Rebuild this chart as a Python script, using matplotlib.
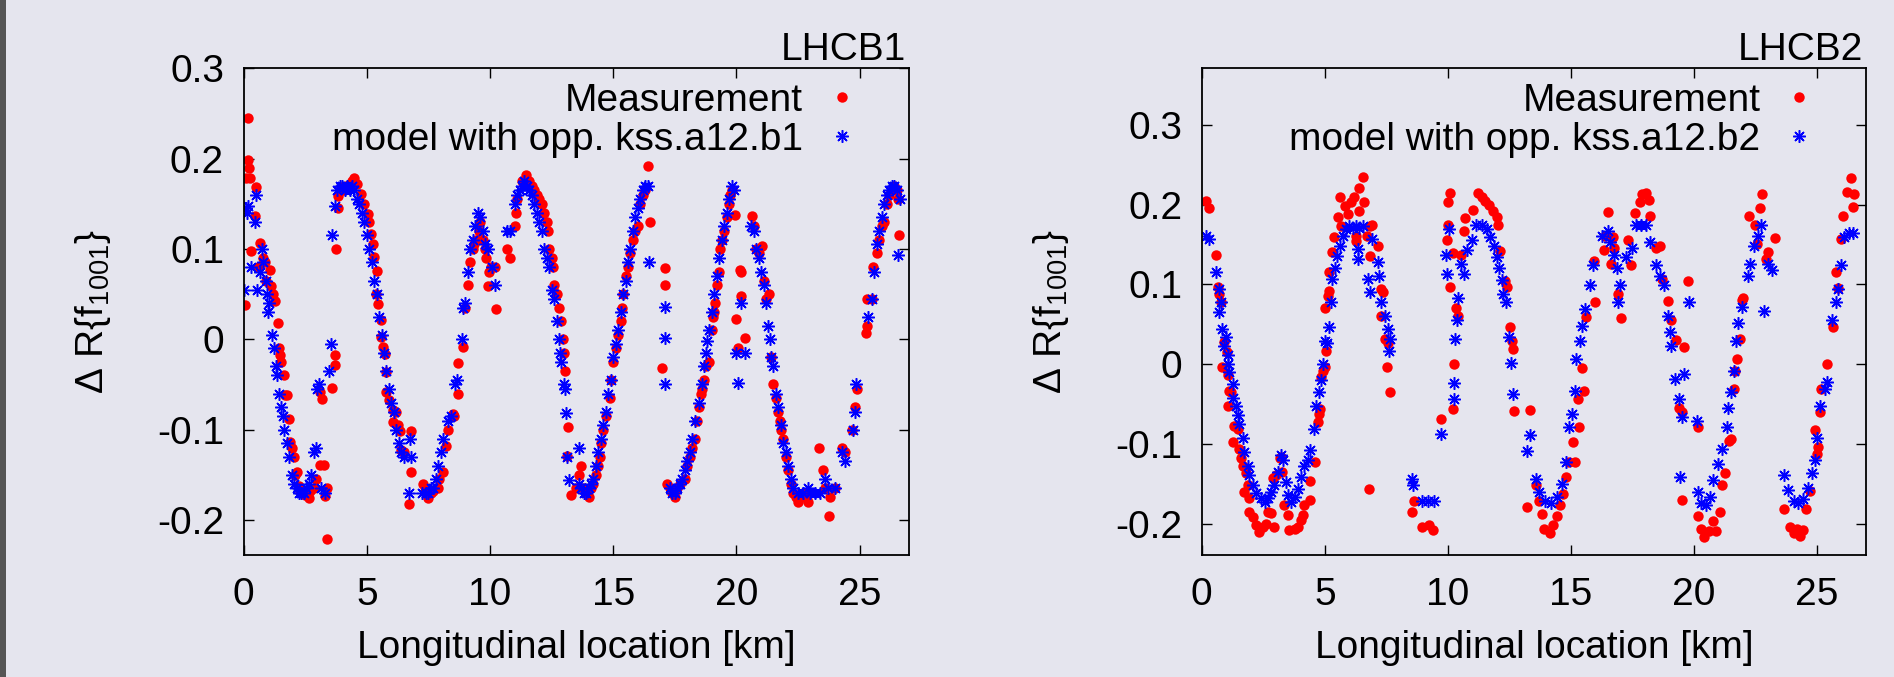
import matplotlib
matplotlib.use("Agg")
import matplotlib.pyplot as plt
from matplotlib.patches import Rectangle

plt.rcParams['font.family'] = ['Liberation Sans', 'DejaVu Sans']
plt.rcParams['font.size'] = 28
plt.rcParams['axes.unicode_minus'] = False

# ---------------------- LHCB1 data (km, delta Re f1001) ----------------------
b1_meas_x = [0.06, 0.18, 0.11, 0.18, 0.23, 0.28, 0.52, 0.45, 0.31, 0.65, 0.6, 0.78, 0.85, 0.9,
             1.06, 1.13, 1.2, 1.27, 1.38, 1.42, 1.48, 1.52, 1.63, 1.7, 1.76, 1.83, 1.9, 1.95,
             2.03, 2.1, 2.17, 2.23, 2.3, 2.44, 2.5, 2.64, 2.7, 2.84, 2.95, 3.11, 3.11, 3.2,
             3.28, 3.3, 3.37, 3.37, 3.58, 3.69, 3.73, 3.76, 3.82, 3.82, 3.96, 4.05, 4.15, 4.3,
             4.4, 4.5, 4.6, 4.77, 4.9, 5.04, 5.1, 5.17, 5.25, 5.31, 5.42, 5.38, 5.45, 5.58,
             5.58, 5.65, 5.72, 5.78, 5.78, 5.92, 6.06, 6.06, 6.19, 6.25, 6.33, 6.39, 6.5, 6.8,
             6.8, 6.73, 7.27, 7.35, 7.48, 7.6, 7.7, 7.88, 7.95, 8.08, 8.21, 8.3, 8.48, 8.55,
             8.69, 8.71, 8.89, 9.0, 9.1, 9.2, 9.3, 9.35, 9.45, 9.55, 9.6, 9.7, 9.8, 9.85,
             9.95, 9.9, 10.05, 10.2, 10.23, 10.67, 10.82, 11.0, 11.05, 11.1, 11.3, 11.45, 11.6,
             11.7, 11.8, 11.9, 12.0, 12.1, 12.2, 12.3, 12.35, 12.4, 12.5, 12.55, 12.6, 12.7,
             12.8, 12.9, 12.95, 13.0, 13.05, 13.18, 13.13, 13.3, 13.5, 13.6, 13.7, 13.8, 13.9,
             14.0, 14.1, 14.2, 14.3, 14.4, 14.45, 14.5, 14.6, 14.7, 14.85, 14.9, 15.0, 15.1,
             15.2, 15.3, 15.35, 15.4, 15.5, 15.6, 15.7, 15.8, 15.9, 16.0, 16.1, 16.2, 16.3,
             16.43, 16.5, 17.09, 17.1, 16.98, 17.2, 17.3, 17.4, 17.5, 17.6, 17.7, 17.9, 18.0,
             18.1, 18.2, 18.3, 18.4, 18.5, 18.55, 18.6, 18.7, 18.75, 18.9, 19.0, 19.05, 19.1,
             19.15, 19.2, 19.3, 19.35, 19.4, 19.5, 19.6, 19.7, 19.75, 19.8, 19.94, 20.0, 20.05,
             20.16, 20.2, 20.17, 20.33, 20.62, 20.7, 20.8, 20.9, 21.04, 21.1, 21.2, 21.33, 21.4,
             21.5, 21.6, 21.7, 21.75, 21.8, 21.9, 22.0, 22.1, 22.2, 22.3, 22.4, 22.5, 22.6,
             22.7, 22.8, 22.9, 23.0, 23.35, 23.5, 23.6, 23.75, 23.8, 24.0, 24.3, 24.4, 24.7,
             24.8, 24.9, 25.25, 25.3, 25.3, 25.5, 25.56, 25.7, 25.8, 25.9, 26.0, 26.1, 26.2,
             26.3, 26.4, 26.5, 26.55, 26.6]
b1_meas_y = [0.038, 0.245, 0.179, 0.198, 0.19, 0.178, 0.168, 0.136, 0.098, 0.107, 0.08, 0.09, 0.085, 0.065,
             0.077, 0.059, 0.05, 0.042, 0.018, -0.01, -0.017, -0.025, -0.04, -0.062, -0.062, -0.088, -0.114, -0.12,
             -0.13, -0.15, -0.147, -0.162, -0.168, -0.169, -0.172, -0.176, -0.168, -0.165, -0.155, -0.139, -0.058, -0.066,
             -0.139, -0.173, -0.165, -0.221, -0.054, -0.029, -0.017, 0.1, 0.145, 0.159, 0.168, 0.165, 0.17, 0.172,
             0.175, 0.178, 0.172, 0.161, 0.15, 0.139, 0.13, 0.117, 0.105, 0.091, 0.076, 0.05, 0.039, 0.021,
             0.003, -0.008, -0.016, -0.036, -0.058, -0.067, -0.078, -0.091, -0.08, -0.095, -0.102, -0.122, -0.125, -0.102,
             -0.147, -0.182, -0.16, -0.168, -0.176, -0.17, -0.168, -0.165, -0.155, -0.147, -0.118, -0.1, -0.083, -0.085,
             -0.06, -0.026, -0.008, 0.035, 0.06, 0.085, 0.1, 0.105, 0.11, 0.12, 0.13, 0.11, 0.1, 0.09,
             0.075, 0.059, 0.08, 0.08, 0.034, 0.1, 0.09, 0.125, 0.14, 0.155, 0.175, 0.182, 0.175,
             0.17, 0.165, 0.16, 0.155, 0.15, 0.14, 0.13, 0.12, 0.1, 0.09, 0.08, 0.06, 0.05,
             0.035, 0.02, 0.0, -0.015, -0.035, -0.097, -0.129, -0.172, -0.165, -0.15, -0.14, -0.165, -0.17,
             -0.175, -0.165, -0.16, -0.15, -0.14, -0.13, -0.115, -0.1, -0.085, -0.065, -0.045, -0.025, -0.01,
             0.005, 0.02, 0.035, 0.05, 0.07, 0.08, 0.095, 0.11, 0.12, 0.125, 0.15, 0.16, 0.165,
             0.192, 0.13, 0.079, 0.06, -0.032, -0.16, -0.165, -0.17, -0.175, -0.165, -0.16, -0.155, -0.14,
             -0.13, -0.12, -0.11, -0.09, -0.075, -0.06, -0.055, -0.045, -0.03, -0.025, 0.01, 0.025, 0.03,
             0.04, 0.06, 0.075, 0.1, 0.11, 0.12, 0.135, 0.15, 0.16, 0.165, 0.137, 0.022, -0.01,
             0.077, 0.074, 0.048, 0.001, 0.136, 0.125, 0.1, 0.095, 0.103, 0.065, 0.045, 0.05, -0.02,
             -0.05, -0.065, -0.08, -0.09, -0.1, -0.11, -0.13, -0.145, -0.16, -0.17, -0.175, -0.18, -0.175,
             -0.17, -0.175, -0.18, -0.17, -0.12, -0.145, -0.165, -0.195, -0.175, -0.165, -0.12, -0.125, -0.1,
             -0.075, -0.055, 0.007, 0.015, 0.045, 0.045, 0.08, 0.095, 0.11, 0.125, 0.13, 0.15, 0.16,
             0.165, 0.17, 0.165, 0.155, 0.115]

b1_model_x = [0.0, 0.08, 0.15, 0.2, 0.3, 0.45, 0.5, 0.55, 0.65, 0.75, 0.8, 0.9, 0.95, 1.0,
              1.05, 1.15, 1.25, 1.3, 1.35, 1.45, 1.5, 1.6, 1.65, 1.75, 1.85, 1.95, 2.05, 2.15,
              2.25, 2.35, 2.45, 2.55, 2.65, 2.75, 2.85, 2.95, 3.0, 3.05, 3.15, 3.3, 3.45, 3.55,
              3.6, 3.7, 3.8, 3.9, 4.0, 4.1, 4.2, 4.3, 4.4, 4.5, 4.6, 4.7, 4.8, 4.9,
              5.0, 5.1, 5.2, 5.3, 5.4, 5.5, 5.6, 5.7, 5.8, 5.9, 6.0, 6.1, 6.2, 6.3,
              6.4, 6.5, 6.75, 6.8, 6.7, 7.25, 7.4, 7.5, 7.6, 7.7, 7.8, 7.9, 8.0, 8.1,
              8.3, 8.4, 8.6, 8.65, 8.85, 8.9, 9.0, 9.1, 9.2, 9.3, 9.4, 9.5, 9.6, 9.7,
              9.8, 9.9, 10.1, 10.2, 10.7, 10.8, 11.0, 11.1, 11.2, 11.3, 11.4, 11.5, 11.6, 11.7,
              11.8, 11.9, 12.0, 12.1, 12.2, 12.3, 12.4, 12.5, 12.6, 12.7, 12.8, 12.85, 12.9, 13.0,
              13.05, 13.1, 13.13, 13.2, 13.6, 13.6, 13.7, 13.8, 13.9, 14.0, 14.1, 14.2, 14.3, 14.4,
              14.5, 14.6, 14.7, 14.8, 14.9, 15.0, 15.1, 15.2, 15.3, 15.4, 15.5, 15.6, 15.7, 15.8,
              15.9, 16.0, 16.1, 16.2, 16.3, 16.4, 16.46, 17.09, 17.09, 17.11, 17.3, 17.4, 17.5, 17.6,
              17.7, 17.8, 17.9, 18.0, 18.1, 18.2, 18.3, 18.5, 18.6, 18.7, 18.75, 18.8, 18.9, 19.0,
              19.1, 19.2, 19.3, 19.4, 19.5, 19.6, 19.7, 19.8, 19.9, 20.0, 20.05, 20.2, 20.35, 20.6,
              20.7, 20.8, 20.9, 21.0, 21.1, 21.2, 21.3, 21.35, 21.4, 21.5, 21.6, 21.7, 21.8, 21.9,
              22.0, 22.1, 22.2, 22.3, 22.5, 22.7, 22.9, 23.0, 23.2, 23.4, 23.6, 23.7, 24.0, 24.3,
              24.4, 24.75, 24.8, 24.85, 25.35, 25.5, 25.6, 25.7, 25.8, 25.9, 26.0, 26.1, 26.2, 26.3,
              26.4, 26.5, 26.65, 26.57]
b1_model_y = [0.054, 0.145, 0.14, 0.148, 0.08, 0.13, 0.16, 0.055, 0.075, 0.1, 0.085, 0.065, 0.05, 0.03,
              0.04, 0.005, -0.01, -0.03, -0.04, -0.06, -0.075, -0.085, -0.1, -0.115, -0.13, -0.15, -0.16, -0.165,
              -0.17, -0.17, -0.17, -0.165, -0.16, -0.15, -0.125, -0.12, -0.055, -0.05, -0.165, -0.17, -0.035, -0.005,
              0.115, 0.148, 0.165, 0.17, 0.17, 0.165, 0.17, 0.165, 0.17, 0.165, 0.155, 0.15, 0.14, 0.13,
              0.115, 0.1, 0.085, 0.065, 0.05, 0.025, 0.005, -0.015, -0.035, -0.055, -0.07, -0.08, -0.1, -0.115,
              -0.125, -0.13, -0.11, -0.13, -0.17, -0.17, -0.17, -0.17, -0.165, -0.165, -0.155, -0.14, -0.125, -0.11,
              -0.09, -0.085, -0.05, -0.045, 0.0, 0.035, 0.04, 0.075, 0.1, 0.11, 0.125, 0.14, 0.135, 0.12,
              0.105, 0.1, 0.08, 0.06, 0.12, 0.12, 0.15, 0.16, 0.165, 0.17, 0.175, 0.17, 0.165, 0.16,
              0.15, 0.14, 0.13, 0.12, 0.1, 0.09, 0.08, 0.055, 0.045, 0.02, 0.0, -0.015, -0.025, -0.05,
              -0.055, -0.082, -0.13, -0.156, -0.12, -0.16, -0.165, -0.17, -0.17, -0.165, -0.16, -0.155, -0.14, -0.125,
              -0.11, -0.095, -0.08, -0.06, -0.045, -0.02, -0.005, 0.01, 0.03, 0.05, 0.065, 0.085, 0.1, 0.12,
              0.135, 0.145, 0.155, 0.165, 0.17, 0.17, 0.085, 0.036, 0.001, -0.049, -0.165, -0.17, -0.17, -0.165,
              -0.16, -0.155, -0.145, -0.135, -0.125, -0.11, -0.09, -0.07, -0.05, -0.03, -0.015, -0.002, 0.01, 0.03,
              0.05, 0.07, 0.09, 0.11, 0.125, 0.14, 0.155, 0.17, 0.165, -0.015, -0.048, 0.04, -0.015, 0.125,
              0.12, 0.1, 0.09, 0.075, 0.06, 0.04, 0.015, 0.0, -0.02, -0.03, -0.06, -0.075, -0.095, -0.115,
              -0.125, -0.14, -0.155, -0.165, -0.17, -0.17, -0.165, -0.17, -0.17, -0.17, -0.155, -0.165, -0.165, -0.125,
              -0.135, -0.1, -0.08, -0.05, 0.025, 0.045, 0.075, 0.105, 0.12, 0.135, 0.15, 0.16, 0.165, 0.17,
              0.17, 0.165, 0.155, 0.093]

# ---------------------- LHCB2 data ----------------------
b2_meas_x = [0.18, 0.31, 0.58, 0.68, 0.72, 0.79, 0.92, 1.02, 0.83, 1.06, 1.12, 1.19, 1.06, 1.33,
             1.46, 1.26, 1.53, 1.6, 1.67, 1.8, 1.87, 1.73, 1.94, 1.94, 2.07, 2.21, 2.34, 2.48,
             2.62, 2.68, 2.82, 2.95, 2.89, 3.02, 3.16, 3.22, 3.27, 3.36, 3.5, 3.56, 3.77, 3.9,
             4.04, 4.1, 4.17, 4.38, 4.38, 4.62, 4.72, 4.76, 4.81, 4.85, 4.92, 4.99, 5.05, 4.99,
             5.12, 5.19, 5.19, 5.3, 5.39, 5.53, 5.66, 5.62, 5.8, 5.93, 6.07, 6.2, 6.4, 6.57,
             6.61, 6.4, 6.27, 6.27, 6.82, 6.92, 6.71, 6.82, 7.15, 7.29, 7.36, 7.29, 7.43, 7.56,
             7.52, 7.66, 6.79, 8.54, 8.61, 8.95, 9.22, 9.39, 9.73, 10.2, 10.24, 10.32, 10.41, 10.1,
             10.22, 9.98, 10.02, 10.0, 10.1, 10.54, 10.66, 10.71, 11.02, 11.22, 11.39, 11.51, 11.68, 11.83,
             12.0, 12.12, 12.05, 12.32, 12.41, 12.54, 12.59, 12.66, 12.68, 13.34, 13.22, 13.59, 13.71, 13.83,
             13.9, 14.15, 14.29, 14.44, 14.56, 14.68, 14.8, 14.93, 15.1, 15.17, 15.34, 15.29, 15.54, 15.46,
             15.61, 15.98, 15.95, 16.34, 16.39, 16.51, 16.71, 16.76, 16.63, 16.93, 17.02, 17.44, 17.32, 17.61,
             17.8, 17.9, 18.05, 18.15, 18.22, 18.46, 18.63, 18.71, 18.95, 19.07, 19.27, 19.61, 19.76, 19.37,
             19.51, 19.51, 20.15, 20.17, 20.29, 20.41, 20.59, 20.78, 20.9, 21.07, 21.15, 21.27, 21.44, 21.51,
             21.63, 21.68, 21.76, 21.88, 21.93, 22.0, 22.24, 22.49, 22.54, 22.68, 22.78, 22.93, 23.02, 23.27,
             23.66, 23.9, 24.07, 24.2, 24.32, 24.44, 24.56, 24.73, 24.93, 24.98, 25.05, 25.1, 25.17, 25.41,
             25.66, 25.78, 25.85, 25.95, 26.07, 26.22, 26.39, 26.46, 26.51]
b2_meas_y = [0.205, 0.196, 0.137, 0.097, 0.088, 0.078, 0.028, 0.015, -0.004, -0.013, -0.033, -0.035, -0.052, -0.077,
             -0.081, -0.098, -0.106, -0.118, -0.127, -0.137, -0.152, -0.16, -0.168, -0.185, -0.191, -0.202, -0.21, -0.204,
             -0.2, -0.185, -0.187, -0.204, -0.143, -0.139, -0.118, -0.116, -0.135, -0.177, -0.189, -0.208, -0.206, -0.204,
             -0.195, -0.189, -0.177, -0.17, -0.147, -0.123, -0.073, -0.062, -0.056, -0.016, -0.008, -0.004, 0.017, 0.071,
             0.086, 0.092, 0.115, 0.14, 0.159, 0.184, 0.173, 0.209, 0.198, 0.188, 0.203, 0.209, 0.221, 0.234,
             0.203, 0.192, 0.161, 0.155, 0.173, 0.175, 0.161, 0.136, 0.148, 0.094, 0.09, 0.061, 0.032, 0.027,
             -0.004, -0.035, -0.157, -0.185, -0.172, -0.204, -0.202, -0.208, -0.069, -0.056, 0.0, 0.071, 0.06, 0.097,
             0.139, 0.156, 0.175, 0.203, 0.215, 0.137, 0.167, 0.183, 0.193, 0.215, 0.21, 0.205, 0.199, 0.192,
             0.185, 0.142, 0.175, 0.104, 0.097, 0.047, 0.029, 0.019, -0.059, -0.058, -0.179, -0.152, -0.171, -0.188,
             -0.206, -0.212, -0.201, -0.19, -0.177, -0.163, -0.142, -0.123, -0.098, -0.123, -0.079, -0.044, -0.033, -0.005,
             0.059, 0.078, 0.129, 0.143, 0.161, 0.191, 0.159, 0.145, 0.126, 0.088, 0.058, 0.124, 0.156, 0.189,
             0.203, 0.213, 0.214, 0.206, 0.186, 0.145, 0.148, 0.107, 0.079, 0.056, 0.03, 0.021, 0.104, -0.055,
             -0.06, -0.17, -0.079, -0.19, -0.206, -0.217, -0.209, -0.196, -0.209, -0.185, -0.152, -0.136, -0.096, -0.094,
             -0.031, -0.009, 0.007, 0.032, 0.08, 0.083, 0.186, 0.175, 0.151, 0.196, 0.213, 0.132, 0.14, 0.158,
             -0.182, -0.204, -0.212, -0.206, -0.215, -0.208, -0.182, -0.159, -0.082, -0.112, -0.104, -0.06, -0.031, 0.0,
             0.046, 0.115, 0.095, 0.157, 0.186, 0.216, 0.233, 0.197, 0.213]

b2_model_x = [0.18, 0.31, 0.58, 0.69, 0.79, 0.72, 0.83, 0.99, 0.92, 1.06, 1.06, 1.12, 1.26, 1.26,
              1.4, 1.46, 1.53, 1.67, 1.73, 1.87, 1.94, 2.07, 2.21, 2.41, 2.55, 2.68, 2.82, 2.95,
              3.09, 3.22, 3.32, 3.43, 3.5, 3.63, 3.77, 3.9, 4.04, 4.17, 4.31, 4.38, 4.58, 4.65,
              4.76, 4.85, 4.92, 4.99, 5.08, 5.16, 5.26, 5.3, 5.43, 5.49, 5.6, 5.73, 5.87, 6.0,
              6.14, 6.27, 6.4, 6.54, 6.34, 6.34, 6.75, 6.82, 6.92, 7.15, 7.2, 7.29, 7.43, 7.56,
              7.63, 7.6, 8.54, 8.59, 8.95, 9.2, 9.44, 9.73, 9.98, 9.93, 10.05, 10.24, 10.24, 10.29,
              10.41, 10.37, 10.54, 10.66, 10.78, 10.98, 11.15, 11.39, 11.59, 11.71, 11.88, 12.0, 12.07, 12.2,
              12.24, 12.37, 12.49, 12.56, 12.66, 13.22, 13.34, 13.59, 13.71, 13.95, 14.2, 14.44, 14.63, 14.8,
              14.93, 15.05, 15.17, 15.22, 15.37, 15.46, 15.59, 15.78, 15.9, 16.27, 16.51, 16.59, 16.76, 16.88,
              17.0, 16.93, 17.24, 17.49, 17.66, 17.85, 18.05, 18.22, 18.46, 18.63, 18.78, 18.95, 19.02, 19.07,
              19.24, 19.37, 19.51, 19.61, 19.8, 19.44, 20.1, 20.17, 20.29, 20.49, 20.66, 20.78, 20.98, 21.15,
              21.32, 21.39, 21.51, 21.63, 21.71, 21.8, 21.95, 22.2, 22.29, 22.44, 22.61, 22.73, 22.85, 23.02,
              23.17, 23.66, 23.83, 24.07, 24.24, 24.44, 24.63, 24.8, 24.93, 24.98, 25.12, 25.32, 25.41, 25.61,
              25.78, 25.85, 25.98, 26.1, 26.29, 26.46]
b2_model_y = [0.161, 0.157, 0.115, 0.094, 0.078, 0.065, 0.044, 0.034, 0.023, 0.011, 0.0, -0.01, -0.025, -0.043,
              -0.052, -0.064, -0.075, -0.093, -0.11, -0.127, -0.139, -0.152, -0.162, -0.168, -0.173, -0.168, -0.16, -0.152,
              -0.135, -0.114, -0.12, -0.148, -0.164, -0.173, -0.166, -0.156, -0.141, -0.127, -0.12, -0.108, -0.081, -0.052,
              -0.035, -0.02, 0.0, 0.029, 0.027, 0.046, 0.078, 0.107, 0.121, 0.136, 0.148, 0.161, 0.169, 0.173,
              0.171, 0.173, 0.171, 0.173, 0.144, 0.132, 0.107, 0.09, 0.157, 0.128, 0.111, 0.078, 0.061, 0.044,
              0.032, 0.017, -0.144, -0.152, -0.171, -0.171, -0.172, -0.087, 0.113, 0.137, 0.17, -0.023, -0.044, 0.032,
              0.083, 0.056, 0.126, 0.113, 0.143, 0.156, 0.175, 0.175, 0.17, 0.159, 0.148, 0.134, 0.121, 0.105,
              0.088, 0.078, 0.034, 0.002, -0.037, -0.109, -0.089, -0.144, -0.16, -0.171, -0.174, -0.166, -0.15, -0.123,
              -0.079, -0.063, -0.033, 0.007, 0.029, 0.048, 0.069, 0.099, 0.124, 0.161, 0.167, 0.153, 0.137, 0.121,
              0.099, 0.078, 0.134, 0.145, 0.175, 0.175, 0.175, 0.153, 0.124, 0.11, 0.099, 0.061, 0.04, 0.023,
              -0.019, -0.044, -0.066, -0.012, 0.078, -0.142, -0.071, -0.16, -0.174, -0.177, -0.166, -0.145, -0.125, -0.106,
              -0.079, -0.055, -0.035, -0.009, 0.029, 0.051, 0.072, 0.11, 0.126, 0.148, 0.161, 0.175, 0.067, 0.126,
              0.118, -0.139, -0.158, -0.171, -0.174, -0.169, -0.155, -0.136, -0.12, -0.093, -0.052, -0.031, -0.022, 0.056,
              0.078, 0.094, 0.124, 0.159, 0.164, 0.164]

panels = [
    ("LHCB1", "model with opp. kss.a12.b1", b1_meas_x, b1_meas_y, b1_model_x, b1_model_y, (-0.239, 0.3)),
    ("LHCB2", "model with opp. kss.a12.b2", b2_meas_x, b2_meas_y, b2_model_x, b2_model_y, (-0.2395, 0.371)),
]
axes_rects = [[0.1286, 0.1798, 0.3513, 0.7195], [0.6345, 0.1798, 0.3509, 0.7195]]
bg = '#e5e5ee'

fig = plt.figure(figsize=(18.94, 6.77), dpi=100, facecolor=bg)
# dark strip at the left edge of the screenshot
fig.patches.append(Rectangle((0, 0), 6 / 1894, 1, transform=fig.transFigure,
                             facecolor='#555555', edgecolor='none', zorder=0))

for rect, (title, model_label, mx, my, sx, sy, ylim) in zip(axes_rects, panels):
    ax = fig.add_axes(rect)
    ax.set_facecolor(bg)
    ax.plot(mx, my, linestyle='none', marker='o', markersize=7.5, color='#ff0000',
            markeredgewidth=0, label='Measurement')
    ax.plot(sx, sy, linestyle='none', marker=(8, 2, 0), markersize=9, color='#0000ff',
            markeredgewidth=1.1, label=model_label)
    ax.set_xlim(0, 27)
    ax.set_ylim(*ylim)
    ax.set_xticks([0, 5, 10, 15, 20, 25])
    ax.set_yticks([-0.2, -0.1, 0, 0.1, 0.2, 0.3])
    ax.set_yticklabels(['-0.2', '-0.1', '0', '0.1', '0.2', '0.3'])
    ax.tick_params(direction='in', length=7, width=1.0, top=True, right=True,
                   labelsize=28, pad=14)
    ax.tick_params(axis='x', pad=16)
    for sp in ax.spines.values():
        sp.set_linewidth(1.3)
    ax.set_xlabel('Longitudinal location [km]', fontsize=28, labelpad=12)
    ax.set_ylabel('Δ R{f$_{\\mathregular{1001}}$}', fontsize=28, labelpad=32)
    ax.text(0.995, 1.0, title, transform=ax.transAxes, ha='right', va='bottom', fontsize=28)
    ax.legend(loc='upper right', bbox_to_anchor=(0.94, 0.986), markerfirst=False, frameon=False,
              fontsize=28, handlelength=1.0, handletextpad=0.5, borderaxespad=0.0,
              borderpad=0.2, labelspacing=0.08, numpoints=1)

fig.savefig('out.png', dpi=100, facecolor=bg)
